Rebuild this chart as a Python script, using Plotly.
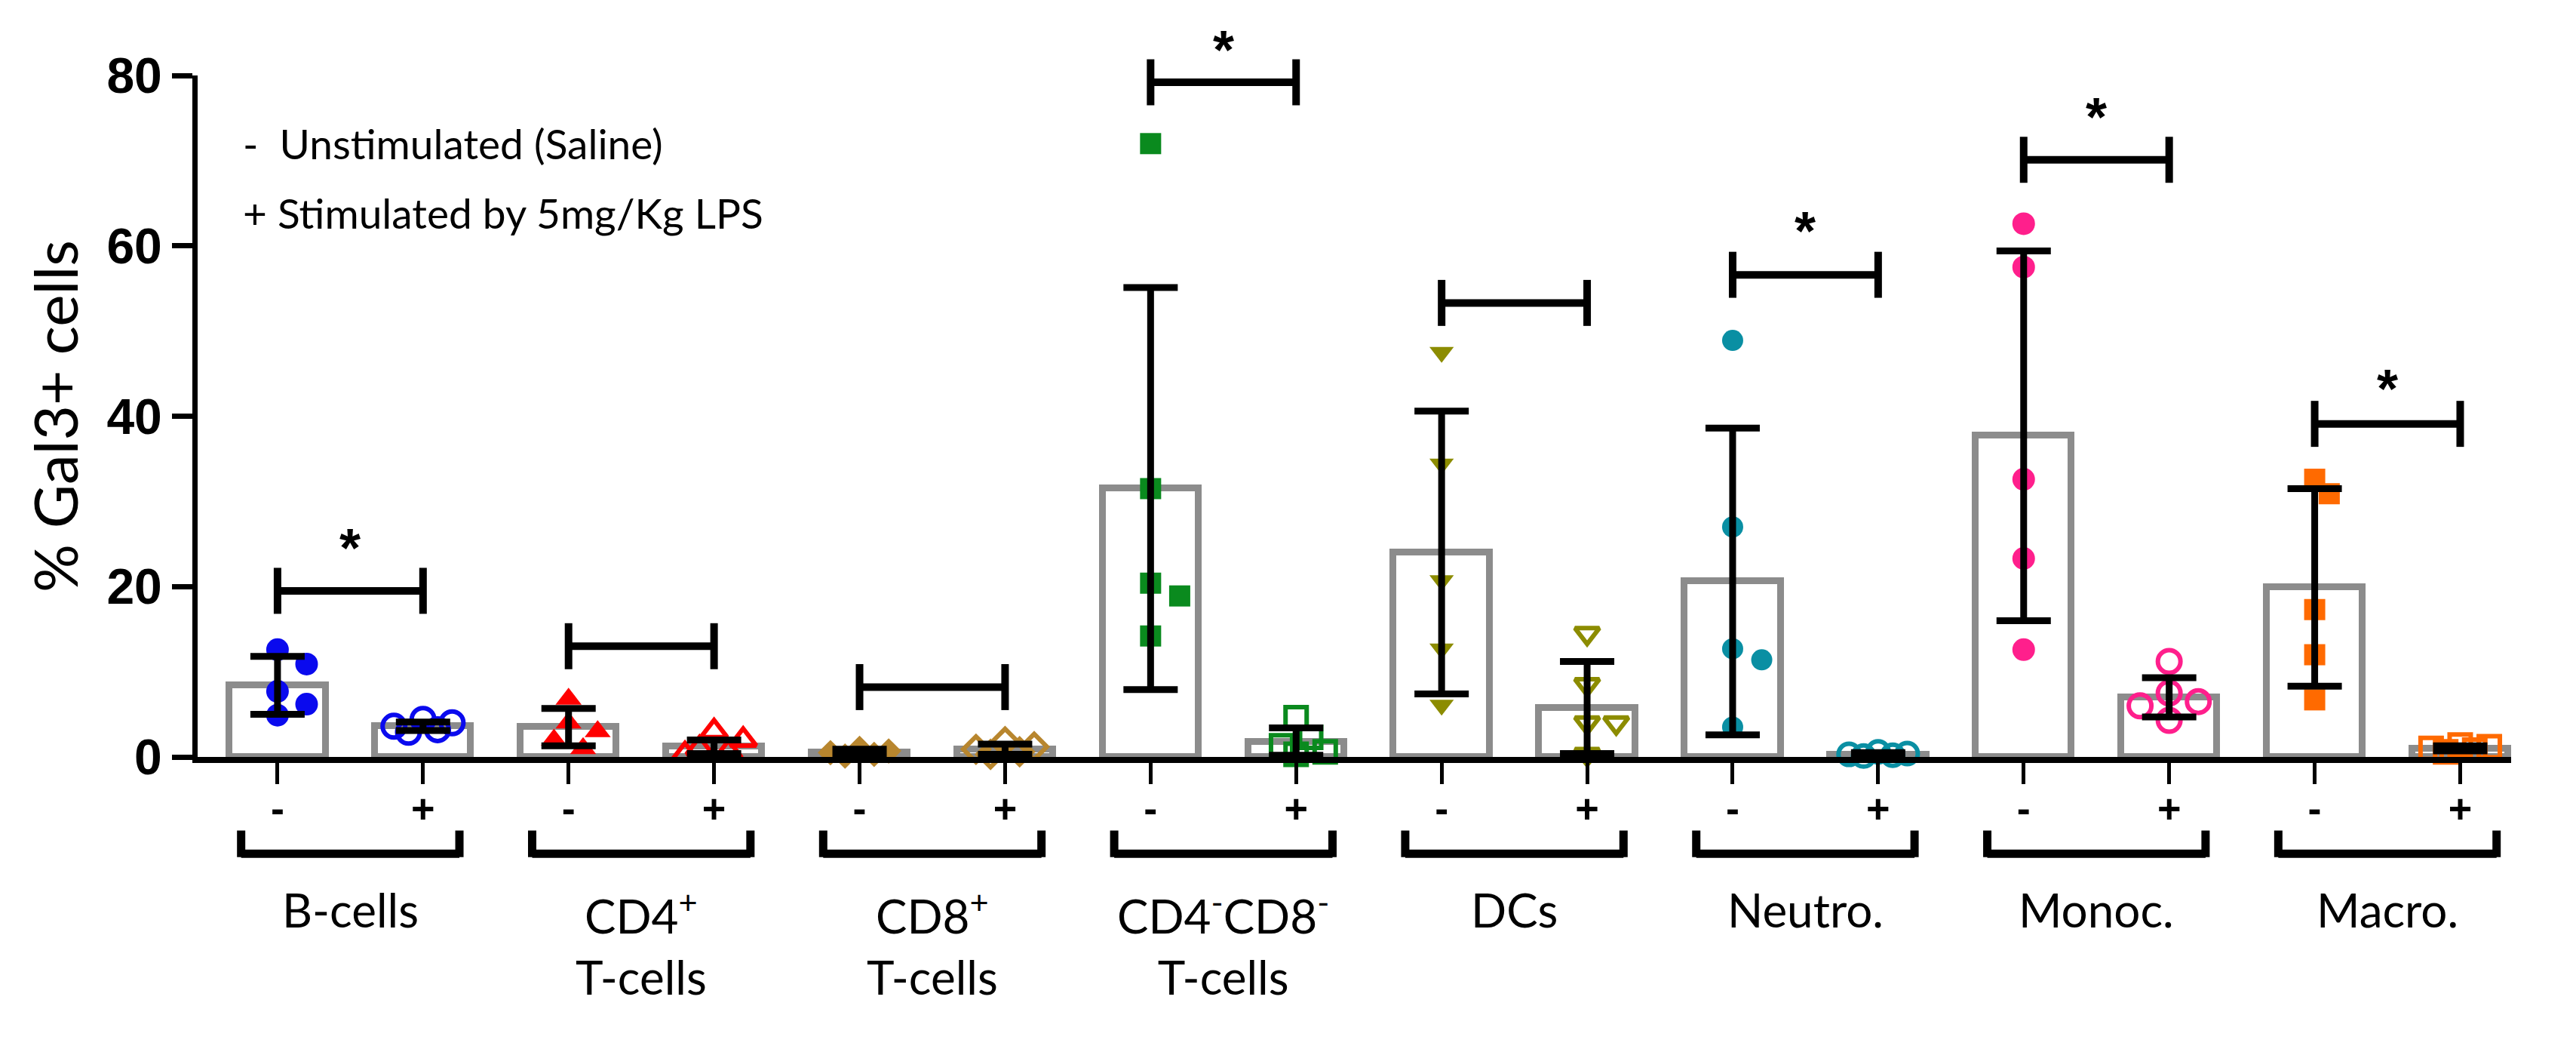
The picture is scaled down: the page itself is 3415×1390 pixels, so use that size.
import plotly.graph_objects as go

# ---------------- data ----------------
cell_types = ["B-cells", "CD4<sup>+</sup><br>T-cells", "CD8<sup>+</sup><br>T-cells",
              "CD4<sup>-</sup>CD8<sup>-</sup><br>T-cells", "DCs", "Neutro.", "Monoc.", "Macro."]
conditions = ["-", "+"]

# bar heights (mean) and SD, order: B-,B+,CD4-,CD4+,CD8-,CD8+,DN-,DN+,DC-,DC+,N-,N+,Mo-,Mo+,Ma-,Ma+
means = [8.4, 3.6, 3.5, 1.2, 0.5, 0.9, 31.5, 1.8, 24.0, 5.8, 20.6, 0.3, 37.7, 7.0, 19.9, 1.0]
sds   = [3.4, 0.5, 2.2, 0.8, 0.4, 0.6, 23.6, 1.6, 16.6, 5.4, 18.0, 0.2, 21.7, 2.3, 11.6, 0.3]

pts_B_m   = [12.6, 10.9, 7.7, 6.2, 4.9]
pts_B_p   = [4.4, 4.0, 3.6, 3.2, 2.9]
pts_CD4_m = [6.8, 4.0, 3.0, 2.0, 1.0]
pts_CD4_p = [3.0, 2.0, 1.0, 0.6, 0.3]
pts_CD8_m = [1.0, 0.7, 0.5, 0.3, 0.1]
pts_CD8_p = [1.8, 1.2, 0.9, 0.6, 0.3]
pts_DN_m  = [72.0, 31.5, 20.4, 18.9, 14.2]
pts_DN_p  = [4.6, 2.3, 1.3, 0.6, 0.3]
pts_DC_m  = [47.5, 34.4, 20.7, 12.7, 6.1]
pts_DC_p  = [14.5, 8.5, 4.0, 4.0, 0.3]
pts_N_m   = [48.9, 27.0, 12.7, 11.4, 3.5]
pts_N_p   = [0.6, 0.4, 0.3, 0.2, 0.1]
pts_Mo_m  = [62.6, 57.5, 32.6, 23.3, 12.6]
pts_Mo_p  = [11.2, 7.5, 6.5, 6.0, 4.3]
pts_Ma_m  = [32.6, 30.9, 17.3, 12.0, 6.7]
pts_Ma_p  = [1.4, 1.2, 1.0, 0.8, 0.6]
points = [pts_B_m, pts_B_p, pts_CD4_m, pts_CD4_p, pts_CD8_m, pts_CD8_p, pts_DN_m, pts_DN_p,
          pts_DC_m, pts_DC_p, pts_N_m, pts_N_p, pts_Mo_m, pts_Mo_p, pts_Ma_m, pts_Ma_p]

# significance brackets (height) and star heights (None = no star)
sig_heights = [19.5, 13.0, 8.2, 79.2, 53.3, 56.6, 70.1, 39.1]
star_y      = [24.9, None, None, 83.4, None, 62.1, 75.5, 43.6]

y_ticks = [0, 20, 40, 60, 80]
legend_lines = ["-\u00a0\u00a0Unstimulated (Saline)", "+ Stimulated by 5mg/Kg LPS"]
legend_y = [72.0, 63.9]
y_title = "% Gal3+ cells"

# ---------------- styling ----------------
colors  = ['#0a0aee', '#ff0000', '#b8862e', '#0a8a1e', '#8c8c00', '#0a8fa3', '#ff1f8c', '#ff6a00']
symbols = ['circle', 'triangle-up', 'diamond', 'square', 'triangle-down', 'circle', 'circle', 'square']
sizes   = [30, 30, 26, 28, 28, 28, 30, 28]
GRAY = '#8c8c8c'
TXT = "Lato, 'Open Sans', sans-serif"
NUM = "'Liberation Sans Narrow', 'Arial Narrow', 'Liberation Sans', Arial, sans-serif"
YMAX = 80
PX_X, PX_Y = 193.0, 11.29   # approximate pixel scale used only for marker spreading

W, H = 3415, 1390
pos = list(range(16))


def swarm(vals, size, step=0.1):
    placed, offs = [], [0.0] * len(vals)
    order = sorted(range(len(vals)), key=lambda i: -vals[i])
    cands = [0, 1, -1, 2, -2]
    for i in order:
        best, best_d = 0, -1
        for c in cands:
            ox = c * step
            d = min([(((ox - a) * PX_X) ** 2 + ((vals[i] - b) * PX_Y) ** 2) ** 0.5 for a, b in placed] or [1e9])
            if d >= 0.95 * size:
                best = ox
                break
            if d > best_d:
                best, best_d = ox, d
        offs[i] = best
        placed.append((best, vals[i]))
    return offs


fig = go.Figure()

# hollow bars
fig.add_trace(go.Bar(x=pos, y=means, width=0.66,
                     marker=dict(color='rgba(255,255,255,0)', line=dict(color=GRAY, width=9)),
                     showlegend=False, hoverinfo='skip'))

# scatter points
for g in range(8):
    for c in range(2):
        i = 2 * g + c
        vals = points[i]
        offs = swarm(vals, sizes[g])
        sym = symbols[g] + ('' if c == 0 else '-open')
        fig.add_trace(go.Scatter(
            x=[pos[i] + o for o in offs], y=vals, mode='markers', cliponaxis=False,
            marker=dict(symbol=sym, size=sizes[g], color=colors[g],
                        line=dict(width=0 if c == 0 else 6, color=colors[g])),
            showlegend=False))

# error bars (mean +/- SD)
fig.add_trace(go.Scatter(x=pos, y=means, mode='markers', cliponaxis=False,
                         marker=dict(size=2, color='black', opacity=0),
                         error_y=dict(type='data', array=sds, color='black', thickness=9, width=36),
                         showlegend=False))

shapes, annotations = [], []
CAP = 2.7
for g in range(8):
    x0, x1, h = pos[2 * g], pos[2 * g + 1], sig_heights[g]
    ln = dict(color='black', width=10)
    shapes.append(dict(type='line', xref='x', yref='y domain', x0=x0, x1=x1, y0=h / YMAX, y1=h / YMAX, line=ln))
    for xx in (x0, x1):
        shapes.append(dict(type='line', xref='x', yref='y domain', x0=xx, x1=xx,
                           y0=(h - CAP) / YMAX, y1=(h + CAP) / YMAX, line=ln))
    if star_y[g] is not None:
        annotations.append(dict(x=(x0 + x1) / 2, y=(star_y[g] - 0.35) / YMAX, xref='x', yref='y domain',
                                text='<b>*</b>', showarrow=False, yanchor='middle',
                                font=dict(family="'Liberation Sans', Arial", size=72, color='black')))
    # lower group brackets
    yb, yt = -0.142, -0.108
    lb = dict(color='black', width=11)
    shapes.append(dict(type='line', xref='x', yref='y domain', x0=x0 - 0.25, x1=x1 + 0.25, y0=yb, y1=yb, line=lb))
    for xx in (x0 - 0.25, x1 + 0.25):
        shapes.append(dict(type='line', xref='x', yref='y domain', x0=xx, x1=xx, y0=yb - 0.005, y1=yt, line=lb))
    annotations.append(dict(x=(x0 + x1) / 2, y=-0.18, xref='x', yref='y domain', text=cell_types[g],
                            showarrow=False, yanchor='top', align='center',
                            font=dict(family=TXT, size=62, color='black')))

# legend-like text
for k, t in enumerate(legend_lines):
    annotations.append(dict(x=-0.25, y=legend_y[k], xref='x', yref='y', text=t, showarrow=False,
                            xanchor='left', yanchor='middle', font=dict(family=TXT, size=55, color='black')))

fig.update_layout(
    width=W, height=H, plot_bgcolor='white', paper_bgcolor='white',
    margin=dict(l=254, r=94, t=92, b=395),
    showlegend=False, bargap=0, shapes=shapes, annotations=annotations,
    xaxis=dict(range=[-0.549, 15.35], tickvals=pos, ticktext=conditions * 8,
               showline=True, linecolor='black', linewidth=8, ticks='outside', ticklen=28,
               tickwidth=5, tickcolor='black', showgrid=False, zeroline=False,
               tickfont=dict(family="'Liberation Sans', Arial", size=54, color='black', weight='bold'),
               ticklabelstandoff=-14),
    yaxis=dict(range=[0, YMAX], tickvals=y_ticks, showline=True, linecolor='black', linewidth=7,
               ticks='outside', ticklen=27, tickwidth=7, tickcolor='black', showgrid=False, zeroline=False,
               tickfont=dict(family=NUM, size=66, color='black', weight='bold'),
               title=dict(text=y_title, font=dict(family=TXT, size=80, color='black'), standoff=14)),
)

fig.write_html("out.html")
